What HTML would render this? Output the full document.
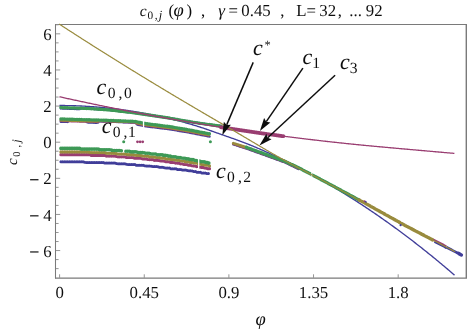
<!DOCTYPE html>
<html><head><meta charset="utf-8"><style>
html,body{margin:0;padding:0;background:#fff;}
svg{display:block;font-family:"Liberation Serif",serif;fill:#111;}
text{text-rendering:geometricPrecision;}
</style></head><body>
<svg width="467" height="331" viewBox="0 0 467 331">
<rect width="467" height="331" fill="#fff"/>
<defs><filter id="g" x="0" y="0" width="467" height="331" filterUnits="userSpaceOnUse"><feGaussianBlur stdDeviation="0.35"/></filter></defs><g filter="url(#g)">
<path d="M55.5,278.6 V24.5 H466.9" fill="none" stroke="#7a7a7a" stroke-width="1.05"/>
<path d="M55,278.1 H466.3 V24" fill="none" stroke="#7a7a7a" stroke-width="1.4"/>
<line x1="56" x2="58.6" y1="268.62" y2="268.62" stroke="#959595" stroke-width="1"/>
<line x1="56" x2="58.6" y1="259.59" y2="259.59" stroke="#959595" stroke-width="1"/>
<line x1="56" x2="60.2" y1="250.56" y2="250.56" stroke="#959595" stroke-width="1"/>
<line x1="56" x2="58.6" y1="241.53" y2="241.53" stroke="#959595" stroke-width="1"/>
<line x1="56" x2="58.6" y1="232.50" y2="232.50" stroke="#959595" stroke-width="1"/>
<line x1="56" x2="58.6" y1="223.47" y2="223.47" stroke="#959595" stroke-width="1"/>
<line x1="56" x2="60.2" y1="214.44" y2="214.44" stroke="#959595" stroke-width="1"/>
<line x1="56" x2="58.6" y1="205.41" y2="205.41" stroke="#959595" stroke-width="1"/>
<line x1="56" x2="58.6" y1="196.38" y2="196.38" stroke="#959595" stroke-width="1"/>
<line x1="56" x2="58.6" y1="187.35" y2="187.35" stroke="#959595" stroke-width="1"/>
<line x1="56" x2="60.2" y1="178.32" y2="178.32" stroke="#959595" stroke-width="1"/>
<line x1="56" x2="58.6" y1="169.29" y2="169.29" stroke="#959595" stroke-width="1"/>
<line x1="56" x2="58.6" y1="160.26" y2="160.26" stroke="#959595" stroke-width="1"/>
<line x1="56" x2="58.6" y1="151.23" y2="151.23" stroke="#959595" stroke-width="1"/>
<line x1="56" x2="60.2" y1="142.20" y2="142.20" stroke="#959595" stroke-width="1"/>
<line x1="56" x2="58.6" y1="133.17" y2="133.17" stroke="#959595" stroke-width="1"/>
<line x1="56" x2="58.6" y1="124.14" y2="124.14" stroke="#959595" stroke-width="1"/>
<line x1="56" x2="58.6" y1="115.11" y2="115.11" stroke="#959595" stroke-width="1"/>
<line x1="56" x2="60.2" y1="106.08" y2="106.08" stroke="#959595" stroke-width="1"/>
<line x1="56" x2="58.6" y1="97.05" y2="97.05" stroke="#959595" stroke-width="1"/>
<line x1="56" x2="58.6" y1="88.02" y2="88.02" stroke="#959595" stroke-width="1"/>
<line x1="56" x2="58.6" y1="78.99" y2="78.99" stroke="#959595" stroke-width="1"/>
<line x1="56" x2="60.2" y1="69.96" y2="69.96" stroke="#959595" stroke-width="1"/>
<line x1="56" x2="58.6" y1="60.93" y2="60.93" stroke="#959595" stroke-width="1"/>
<line x1="56" x2="58.6" y1="51.90" y2="51.90" stroke="#959595" stroke-width="1"/>
<line x1="56" x2="58.6" y1="42.87" y2="42.87" stroke="#959595" stroke-width="1"/>
<line x1="56" x2="60.2" y1="33.84" y2="33.84" stroke="#959595" stroke-width="1"/>
<line x1="56" x2="58.6" y1="24.81" y2="24.81" stroke="#959595" stroke-width="1"/>
<line x1="59.60" x2="59.60" y1="278" y2="274.3" stroke="#959595" stroke-width="1"/>
<line x1="144.25" x2="144.25" y1="278" y2="274.3" stroke="#959595" stroke-width="1"/>
<line x1="228.89" x2="228.89" y1="278" y2="274.3" stroke="#959595" stroke-width="1"/>
<line x1="313.54" x2="313.54" y1="278" y2="274.3" stroke="#959595" stroke-width="1"/>
<line x1="398.18" x2="398.18" y1="278" y2="274.3" stroke="#959595" stroke-width="1"/>
<polyline points="59.50,105.51 60.50,105.52 61.50,105.52 62.50,105.52 63.50,105.53 64.50,105.54 65.50,105.55 66.50,105.57 67.50,105.58 68.50,105.60 69.50,105.62 70.50,105.64 71.50,105.67 72.50,105.70 73.50,105.72 74.50,105.76 75.50,105.79 76.50,105.83 77.50,105.86 78.50,105.90 79.50,105.94 80.50,105.99 81.50,106.04 82.50,106.08 83.50,106.14 84.50,106.19 85.50,106.24 86.50,106.30 87.50,106.36 88.50,106.42 89.50,106.49 90.50,106.55 91.50,106.62 92.50,106.69 93.50,106.76 94.50,106.84 95.50,106.91 96.50,106.99 97.50,107.08 98.50,107.16 99.50,107.24 100.50,107.33 101.50,107.42 102.50,107.51 103.50,107.61 104.50,107.70 105.50,107.80 106.50,107.90 107.50,108.01 108.50,108.11 109.50,108.22 110.50,108.33 111.50,108.44 112.50,108.55 113.50,108.67 114.50,108.79 115.50,108.91 116.50,109.03 117.50,109.16 118.50,109.28 119.50,109.41 120.50,109.54 121.50,109.68 122.50,109.81 123.50,109.95 124.50,110.09 125.50,110.23 126.50,110.38 127.50,110.52 128.50,110.67 129.50,110.82 130.50,110.98 131.50,111.13 132.50,111.29 133.50,111.45 134.50,111.61 135.50,111.77 136.50,111.94 137.50,112.11 138.50,112.28 139.50,112.45 140.50,112.62 141.50,112.80 142.50,112.98 143.50,113.16 144.50,113.34 145.50,113.53 146.50,113.72 147.50,113.91 148.50,114.10 149.50,114.29 150.50,114.49 151.50,114.69 152.50,114.89 153.50,115.09 154.50,115.30 155.50,115.51 156.50,115.71 157.50,115.93 158.50,116.14 159.50,116.36 160.50,116.57 161.50,116.79 162.50,117.02 163.50,117.24 164.50,117.47 165.50,117.70 166.50,117.93 167.50,118.16 168.50,118.40 169.50,118.64 170.50,118.88 171.50,119.12 172.50,119.36 173.50,119.61 174.50,119.86 175.50,120.11 176.50,120.36 177.50,120.62 178.50,120.88 179.50,121.14 180.50,121.40 181.50,121.66 182.50,121.93 183.50,122.20 184.50,122.47 185.50,122.75 186.50,123.03 187.50,123.31 188.50,123.59 189.50,123.88 190.50,124.17 191.50,124.46 192.50,124.75 193.50,125.05 194.50,125.35 195.50,125.66 196.50,125.97 197.50,126.28 198.50,126.60 199.50,126.92 200.50,127.24 201.50,127.57 202.50,127.90 203.50,128.23 204.50,128.57 205.50,128.91 206.50,129.25 207.50,129.59 208.50,129.94 209.50,130.29 210.50,130.64 211.50,130.99 212.50,131.35 213.50,131.70 214.50,132.06 215.50,132.41 216.50,132.77 217.50,133.12 218.50,133.47 219.50,133.83 220.50,134.18 221.50,134.53 222.50,134.88 223.50,135.23 224.50,135.58 225.50,135.93 226.50,136.28 227.50,136.63 228.50,136.98 229.50,137.32 230.50,137.67 231.50,138.02 232.50,138.37 233.50,138.73 234.50,139.08 235.50,139.44 236.50,139.79 237.50,140.16 238.50,140.52 239.50,140.89 240.50,141.26 241.50,141.63 242.50,142.01 243.50,142.39 244.50,142.77 245.50,143.16 246.50,143.55 247.50,143.95 248.50,144.35 249.50,144.75 250.50,145.15 251.50,145.56 252.50,145.97 253.50,146.39 254.50,146.80 255.50,147.22 256.50,147.65 257.50,148.07 258.50,148.50 259.50,148.93 260.50,149.37 261.50,149.80 262.50,150.24 263.50,150.68 264.50,151.13 265.50,151.57 266.50,152.02 267.50,152.47 268.50,152.92 269.50,153.38 270.50,153.83 271.50,154.29 272.50,154.75 273.50,155.22 274.50,155.68 275.50,156.15 276.50,156.62 277.50,157.09 278.50,157.57 279.50,158.04 280.50,158.52 281.50,159.00 282.50,159.49 283.50,159.97 284.50,160.46 285.50,160.95 286.50,161.44 287.50,161.94 288.50,162.43 289.50,162.93 290.50,163.43 291.50,163.93 292.50,164.44 293.50,164.95 294.50,165.46 295.50,165.97 296.50,166.48 297.50,167.00 298.50,167.51 299.50,168.03 300.50,168.56 301.50,169.08 302.50,169.61 303.50,170.14 304.50,170.67 305.50,171.20 306.50,171.74 307.50,172.27 308.50,172.81 309.50,173.36 310.50,173.90 311.50,174.45 312.50,174.99 313.50,175.54 314.50,176.10 315.50,176.65 316.50,177.21 317.50,177.77 318.50,178.33 319.50,178.89 320.50,179.46 321.50,180.03 322.50,180.60 323.50,181.17 324.50,181.74 325.50,182.32 326.50,182.90 327.50,183.48 328.50,184.06 329.50,184.65 330.50,185.24 331.50,185.83 332.50,186.42 333.50,187.01 334.50,187.61 335.50,188.21 336.50,188.81 337.50,189.41 338.50,190.01 339.50,190.62 340.50,191.23 341.50,191.84 342.50,192.46 343.50,193.07 344.50,193.69 345.50,194.31 346.50,194.93 347.50,195.56 348.50,196.18 349.50,196.81 350.50,197.44 351.50,198.07 352.50,198.71 353.50,199.35 354.50,199.99 355.50,200.63 356.50,201.27 357.50,201.92 358.50,202.57 359.50,203.22 360.50,203.87 361.50,204.53 362.50,205.18 363.50,205.84 364.50,206.50 365.50,207.17 366.50,207.83 367.50,208.50 368.50,209.17 369.50,209.84 370.50,210.52 371.50,211.19 372.50,211.87 373.50,212.55 374.50,213.24 375.50,213.92 376.50,214.61 377.50,215.30 378.50,215.99 379.50,216.68 380.50,217.38 381.50,218.08 382.50,218.78 383.50,219.48 384.50,220.19 385.50,220.89 386.50,221.60 387.50,222.31 388.50,223.03 389.50,223.74 390.50,224.46 391.50,225.18 392.50,225.90 393.50,226.63 394.50,227.35 395.50,228.08 396.50,228.81 397.50,229.55 398.50,230.28 399.50,231.02 400.50,231.76 401.50,232.50 402.50,233.25 403.50,233.99 404.50,234.74 405.50,235.49 406.50,236.25 407.50,237.00 408.50,237.76 409.50,238.52 410.50,239.28 411.50,240.05 412.50,240.82 413.50,241.59 414.50,242.36 415.50,243.13 416.50,243.91 417.50,244.69 418.50,245.47 419.50,246.25 420.50,247.04 421.50,247.82 422.50,248.62 423.50,249.41 424.50,250.20 425.50,251.00 426.50,251.80 427.50,252.60 428.50,253.41 429.50,254.21 430.50,255.02 431.50,255.83 432.50,256.64 433.50,257.46 434.50,258.28 435.50,259.10 436.50,259.92 437.50,260.74 438.50,261.57 439.50,262.40 440.50,263.23 441.50,264.07 442.50,264.90 443.50,265.74 444.50,266.58 445.50,267.43 446.50,268.27 447.50,269.12 448.50,269.97 449.50,270.82 450.50,271.68 451.50,272.53 452.50,273.39 453.50,274.25 454.50,275.12" fill="none" stroke="#3F3D99" stroke-width="1.35" />
<polyline points="60.90,161.70 61.90,161.70 62.90,161.70 63.90,161.70 64.90,161.70 65.90,161.70 66.90,161.70 67.90,161.70 68.90,161.70 69.90,161.70 70.90,161.70 71.90,161.70 72.90,161.70 73.90,161.70 74.90,161.70 75.90,161.70 76.90,161.70 77.90,161.70 78.90,161.70 79.90,161.70 80.90,161.70 81.90,161.70 82.90,161.70 83.90,161.70 84.90,162.40 85.90,162.40 86.90,162.40 87.90,162.40 88.90,162.40 89.90,162.40 90.90,162.40 91.90,162.40 92.90,162.40 93.90,162.40 94.90,162.40 95.90,162.40 96.90,162.40 97.90,162.40 98.90,162.40 99.90,162.40 100.90,162.40 101.90,162.40 102.90,162.40 103.90,163.10 104.90,163.10 105.90,163.10 106.90,163.10 107.90,163.10 108.90,163.10 109.90,163.10 110.90,163.10 111.90,163.10 112.90,163.10 113.90,163.10 114.90,163.10 115.90,163.10 116.90,163.80 117.90,163.80 118.90,163.80 119.90,163.80 120.90,163.80 121.90,163.80 122.90,163.80 123.90,163.80 124.90,163.80 125.90,163.80 126.90,164.50 127.90,164.50 128.90,164.50 129.90,164.50 130.90,164.50 131.90,164.50 132.90,164.50 133.90,164.50 134.90,164.50 135.90,165.20 136.90,165.20 137.90,165.20 138.90,165.20 139.90,165.20 140.90,165.20 141.90,165.20 142.90,165.20 143.90,165.20 144.90,165.90 145.90,165.90 146.90,165.90 147.90,165.90 148.90,165.90 149.90,165.90 150.90,165.90 151.90,166.60 152.90,166.60 153.90,166.60 154.90,166.60 155.90,166.60 156.90,166.60 157.90,166.60 158.90,167.30 159.90,167.30 160.90,167.30 161.90,167.30 162.90,167.30 163.90,167.30 164.90,168.00 165.90,168.00 166.90,168.00 167.90,168.00 168.90,168.00 169.90,168.00 170.90,168.70 171.90,168.70 172.90,168.70 173.90,168.70 174.90,168.70 175.90,168.70 176.90,169.40 177.90,169.40 178.90,169.40 179.90,169.40 180.90,169.40 181.90,170.10 182.90,170.10 183.90,170.10 184.90,170.10 185.90,170.10 186.90,170.10 187.90,170.80 188.90,170.80 189.90,170.80 190.90,170.80 191.90,170.80 192.90,171.50 193.90,171.50 194.90,171.50 195.90,171.50 196.90,172.20 197.90,172.20 198.90,172.20 199.90,172.20 200.90,172.20 201.90,172.90 202.90,172.90 203.90,172.90 204.90,172.90 205.90,172.90 206.90,173.60 207.90,173.60 208.90,173.60 209.90,173.60" fill="none" stroke="#3F3D99" stroke-width="3.0" stroke-linecap="round" stroke-linejoin="round" stroke-dasharray="0 1.7"/>
<polyline points="60.90,154.70 61.90,154.70 62.90,154.70 63.90,154.70 64.90,154.70 65.90,154.70 66.90,154.70 67.90,154.70 68.90,154.70 69.90,154.70 70.90,154.70 71.90,154.70 72.90,154.70 73.90,154.70 74.90,154.70 75.90,154.70 76.90,154.70 77.90,154.70 78.90,154.70 79.90,154.70 80.90,154.70 81.90,154.70 82.90,154.70 83.90,154.70 84.90,154.70 85.90,154.70 86.90,154.70 87.90,154.70 88.90,154.70 89.90,154.70 90.90,155.40 91.90,155.40 92.90,155.40 93.90,155.40 94.90,155.40 95.90,155.40 96.90,155.40 97.90,155.40 98.90,155.40 99.90,155.40 100.90,155.40 101.90,155.40 102.90,155.40 103.90,155.40 104.90,155.40 105.90,156.10 106.90,156.10 107.90,156.10 108.90,156.10 109.90,156.10 110.90,156.10 111.90,156.10 112.90,156.10 113.90,156.10 114.90,156.10 115.90,156.10 116.90,156.80 117.90,156.80 118.90,156.80 119.90,156.80 120.90,156.80 121.90,156.80 122.90,156.80 123.90,156.80 124.90,156.80 125.90,157.50 126.90,157.50 127.90,157.50 128.90,157.50 129.90,157.50 130.90,157.50 131.90,157.50 132.90,157.50 133.90,158.20 134.90,158.20 135.90,158.20 136.90,158.20 137.90,158.20 138.90,158.20 139.90,158.20 140.90,158.20 141.90,158.90 142.90,158.90 143.90,158.90 144.90,158.90 145.90,158.90 146.90,158.90 147.90,159.60 148.90,159.60 149.90,159.60 150.90,159.60 151.90,159.60 152.90,159.60 153.90,160.30 154.90,160.30 155.90,160.30 156.90,160.30 157.90,160.30 158.90,160.30 159.90,161.00 160.90,161.00 161.90,161.00 162.90,161.00 163.90,161.00 164.90,161.70 165.90,161.70 166.90,161.70 167.90,161.70 168.90,161.70 169.90,162.40 170.90,162.40 171.90,162.40 172.90,162.40 173.90,162.40 174.90,163.10 175.90,163.10 176.90,163.10 177.90,163.10 178.90,163.10 179.90,163.80 180.90,163.80 181.90,163.80 182.90,163.80 183.90,164.50 184.90,164.50 185.90,164.50 186.90,164.50 187.90,165.20 188.90,165.20 189.90,165.20 190.90,165.20 191.90,165.90 192.90,165.90 193.90,165.90 194.90,165.90 195.90,166.60 196.90,166.60 197.90,166.60 198.90,166.60 199.90,167.30 200.90,167.30 201.90,167.30 202.90,167.30 203.90,168.00 204.90,168.00 205.90,168.00 206.90,168.70 207.90,168.70 208.90,168.70 209.90,168.70" fill="none" stroke="#993D71" stroke-width="3.2" stroke-linecap="round" stroke-linejoin="round" stroke-dasharray="0 1.7"/>
<polyline points="60.90,151.90 61.90,151.90 62.90,151.90 63.90,151.90 64.90,151.90 65.90,151.90 66.90,151.90 67.90,151.90 68.90,151.90 69.90,151.90 70.90,151.90 71.90,151.90 72.90,151.90 73.90,151.90 74.90,151.90 75.90,151.90 76.90,151.90 77.90,151.90 78.90,151.90 79.90,151.90 80.90,151.90 81.90,151.90 82.90,151.90 83.90,151.90 84.90,151.90 85.90,151.90 86.90,151.90 87.90,151.90 88.90,151.90 89.90,152.60 90.90,152.60 91.90,152.60 92.90,152.60 93.90,152.60 94.90,152.60 95.90,152.60 96.90,152.60 97.90,152.60 98.90,152.60 99.90,152.60 100.90,152.60 101.90,152.60 102.90,152.60 103.90,152.60 104.90,152.60 105.90,153.30 106.90,153.30 107.90,153.30 108.90,153.30 109.90,153.30 110.90,153.30 111.90,153.30 112.90,153.30 113.90,153.30 114.90,153.30 115.90,153.30 116.90,154.00 117.90,154.00 118.90,154.00 119.90,154.00 120.90,154.00 121.90,154.00 122.90,154.00 123.90,154.00 124.90,154.00 125.90,154.00 126.90,154.70 127.90,154.70 128.90,154.70 129.90,154.70 130.90,154.70 131.90,154.70 132.90,154.70 133.90,154.70 134.90,155.40 135.90,155.40 136.90,155.40 137.90,155.40 138.90,155.40 139.90,155.40 140.90,155.40 141.90,156.10 142.90,156.10 143.90,156.10 144.90,156.10 145.90,156.10 146.90,156.10 147.90,156.10 148.90,156.80 149.90,156.80 150.90,156.80 151.90,156.80 152.90,156.80 153.90,156.80 154.90,157.50 155.90,157.50 156.90,157.50 157.90,157.50 158.90,157.50 159.90,157.50 160.90,158.20 161.90,158.20 162.90,158.20 163.90,158.20 164.90,158.20 165.90,158.90 166.90,158.90 167.90,158.90 168.90,158.90 169.90,158.90 170.90,159.60 171.90,159.60 172.90,159.60 173.90,159.60 174.90,159.60 175.90,160.30 176.90,160.30 177.90,160.30 178.90,160.30 179.90,160.30 180.90,161.00 181.90,161.00 182.90,161.00 183.90,161.00 184.90,161.70 185.90,161.70 186.90,161.70 187.90,161.70 188.90,161.70 189.90,162.40 190.90,162.40 191.90,162.40 192.90,162.40 193.90,163.10 194.90,163.10 195.90,163.10 196.90,163.10 197.90,163.80 198.90,163.80 199.90,163.80 200.90,164.50 201.90,164.50 202.90,164.50 203.90,164.50 204.90,165.20 205.90,165.20 206.90,165.20 207.90,165.20 208.90,165.90 209.90,165.90" fill="none" stroke="#998B3D" stroke-width="3.2" stroke-linecap="round" stroke-linejoin="round" stroke-dasharray="0 1.7"/>
<polyline points="60.90,148.40 61.90,148.40 62.90,148.40 63.90,148.40 64.90,148.40 65.90,148.40 66.90,148.40 67.90,148.40 68.90,148.40 69.90,148.40 70.90,148.40 71.90,148.40 72.90,148.40 73.90,148.40 74.90,148.40 75.90,148.40 76.90,148.40 77.90,148.40 78.90,148.40 79.90,148.40 80.90,149.10 81.90,149.10 82.90,149.10 83.90,149.10 84.90,149.10 85.90,149.10 86.90,149.10 87.90,149.10 88.90,149.10 89.90,149.10 90.90,149.10 91.90,149.10 92.90,149.10 93.90,149.10 94.90,149.10 95.90,149.10 96.90,149.10 97.90,149.10 98.90,149.10 99.90,149.80 100.90,149.80 101.90,149.80 102.90,149.80 103.90,149.80 104.90,149.80 105.90,149.80 106.90,149.80 107.90,149.80 108.90,149.80 109.90,149.80 110.90,149.80 111.90,150.50 112.90,150.50 113.90,150.50 114.90,150.50 115.90,150.50 116.90,150.50 117.90,150.50 118.90,150.50 119.90,150.50 120.90,150.50 121.90,151.20" fill="none" stroke="#3D9956" stroke-width="3.6" stroke-linecap="round" stroke-linejoin="round" stroke-dasharray="0 1.7"/>
<polyline points="125.90,151.20 126.90,151.20 127.90,151.20 128.90,151.20 129.90,151.20 130.90,151.90 131.90,151.90 132.90,151.90 133.90,151.90 134.90,151.90 135.90,151.90 136.90,151.90 137.90,152.60 138.90,152.60 139.90,152.60 140.90,152.60 141.90,152.60 142.90,152.60 143.90,152.60 144.90,153.30 145.90,153.30 146.90,153.30 147.90,153.30 148.90,153.30 149.90,153.30 150.90,154.00 151.90,154.00 152.90,154.00 153.90,154.00 154.90,154.00 155.90,154.00 156.90,154.70 157.90,154.70 158.90,154.70 159.90,154.70 160.90,154.70 161.90,154.70 162.90,155.40 163.90,155.40 164.90,155.40 165.90,155.40 166.90,155.40 167.90,156.10 168.90,156.10 169.90,156.10 170.90,156.10 171.90,156.80 172.90,156.80 173.90,156.80 174.90,156.80 175.90,156.80 176.90,157.50 177.90,157.50 178.90,157.50 179.90,157.50 180.90,157.50 181.90,158.20 182.90,158.20 183.90,158.20 184.90,158.20 185.90,158.90 186.90,158.90 187.90,158.90 188.90,158.90 189.90,159.60 190.90,159.60 191.90,159.60 192.90,159.60 193.90,160.30 194.90,160.30 195.90,160.30 196.90,161.00 197.90,161.00 198.90,161.00 199.90,161.00 200.90,161.70 201.90,161.70 202.90,161.70 203.90,161.70 204.90,162.40 205.90,162.40 206.90,162.40 207.90,163.10 208.90,163.10 209.90,163.10" fill="none" stroke="#3D9956" stroke-width="3.6" stroke-linecap="round" stroke-linejoin="round" stroke-dasharray="0 1.7"/>
<polyline points="60.90,121.64 61.90,121.67 62.90,121.70 63.90,121.73 64.90,121.76 65.90,121.79 66.90,121.82 67.90,121.85 68.90,120.38 69.90,120.41 70.90,120.44 71.90,120.47 72.90,120.50 73.90,120.53 74.90,120.56 75.90,120.59 76.90,120.62 77.90,120.65 78.90,120.68 79.90,120.71 80.90,120.74 81.90,120.77 82.90,120.80 83.90,120.82 84.90,120.85 85.90,120.88 86.90,122.41 87.90,122.44 88.90,122.47 89.90,122.50 90.90,122.53 91.90,122.56 92.90,122.59 93.90,122.62 94.90,122.65 95.90,122.68 96.90,122.71 97.90,122.74 98.90,121.27 99.90,121.30 100.90,121.33 101.90,121.36 102.90,121.39 103.90,121.42 104.90,121.45 105.90,121.48 106.90,121.51 107.90,121.54 108.90,121.57 109.90,121.60 110.90,121.64 111.90,121.68 112.90,121.72 113.90,121.76 114.90,121.80 115.90,121.84 116.90,121.88 117.90,121.92 118.90,121.96 119.90,122.00 120.90,122.04 121.90,122.08 122.90,122.12 123.90,122.16 124.90,122.20 125.90,122.24 126.90,122.28 127.90,122.32 128.90,122.36 129.90,122.40 130.90,122.44 131.90,122.48 132.90,122.52 133.90,122.56 134.90,122.60 135.90,122.78 136.90,124.48 137.90,124.68 138.90,124.88 139.90,125.08 140.90,125.28 141.90,125.48 142.90,125.68 143.90,125.88 144.90,126.08 145.90,126.28 146.90,126.41 147.90,126.54 148.90,126.66 149.90,126.79 150.90,126.91 151.90,127.04 152.90,127.16 153.90,127.29 154.90,127.41 155.90,127.54 156.90,127.66 157.90,127.79 158.90,127.91 159.90,128.04 160.90,128.16 161.90,128.29 162.90,128.41 163.90,128.54 164.90,128.66 165.90,128.79 166.90,128.91 167.90,129.04 168.90,129.16 169.90,129.29 170.90,129.45 171.90,129.62 172.90,129.79 173.90,129.96 174.90,130.13 175.90,130.30 176.90,130.47 177.90,130.64 178.90,130.81 179.90,130.98 180.90,131.15 181.90,131.32 182.90,131.49 183.90,131.66 184.90,131.83 185.90,132.00 186.90,132.17 187.90,132.34 188.90,132.51 189.90,132.68 190.90,132.88 191.90,133.07 192.90,133.27 193.90,133.47 194.90,133.66 195.90,133.86 196.90,134.05 197.90,134.25 198.90,134.45 199.90,134.64 200.90,134.84 201.90,135.04 202.90,135.23 203.90,135.43 204.90,135.62 205.90,135.82 206.90,136.02 207.90,136.21 208.90,136.41 209.90,136.61" fill="none" stroke="#3F3D99" stroke-width="2.6" stroke-linecap="round" stroke-linejoin="round" stroke-dasharray="0 1.7"/>
<polyline points="60.90,120.84 61.90,120.87 62.90,120.90 63.90,120.93 64.90,120.96 65.90,120.99 66.90,121.02 67.90,121.05 68.90,121.08 69.90,121.11 70.90,121.14 71.90,121.17 72.90,121.20 73.90,121.23 74.90,121.26 75.90,121.29 76.90,121.32 77.90,121.35 78.90,121.38 79.90,121.41 80.90,121.44 81.90,121.47 82.90,121.50 83.90,121.52 84.90,121.55 85.90,121.58 86.90,121.61 87.90,121.64 88.90,121.67 89.90,121.70 90.90,121.73 91.90,121.76 92.90,121.79 93.90,121.82 94.90,121.85 95.90,121.88 96.90,121.91 97.90,121.94 98.90,121.02 99.90,121.05 100.90,121.08 101.90,121.11 102.90,121.14 103.90,121.17 104.90,121.20 105.90,121.23 106.90,121.26 107.90,121.29 108.90,121.32 109.90,121.35 110.90,121.39 111.90,121.43 112.90,121.47 113.90,121.51 114.90,121.55 115.90,121.59 116.90,121.63 117.90,121.67 118.90,121.71 119.90,121.75 120.90,121.79 121.90,121.83 122.90,121.87 123.90,121.91 124.90,121.95 125.90,121.99 126.90,122.03 127.90,122.07 128.90,122.11 129.90,122.15 130.90,122.19 131.90,122.23 132.90,122.27 133.90,122.31 134.90,122.35 135.90,122.53 136.90,123.68 137.90,123.88 138.90,124.08 139.90,124.28 140.90,124.48 141.90,124.68 142.90,124.88 143.90,125.08 144.90,125.28 145.90,125.48 146.90,125.61 147.90,125.74 148.90,125.86 149.90,125.99 150.90,126.11 151.90,126.24 152.90,126.36 153.90,126.49 154.90,126.61 155.90,126.74 156.90,126.86 157.90,126.99 158.90,127.11 159.90,127.24 160.90,127.36 161.90,127.49 162.90,127.61 163.90,127.74 164.90,127.86 165.90,127.99 166.90,128.11 167.90,128.24 168.90,128.36 169.90,128.49 170.90,128.65 171.90,128.82 172.90,128.99 173.90,129.16 174.90,129.33 175.90,129.50 176.90,129.67 177.90,129.84 178.90,130.01 179.90,130.18 180.90,130.35 181.90,130.52 182.90,130.69 183.90,130.86 184.90,131.03 185.90,131.20 186.90,131.37 187.90,131.54 188.90,131.71 189.90,131.88 190.90,132.08 191.90,132.27 192.90,132.47 193.90,132.67 194.90,132.86 195.90,133.06 196.90,133.25 197.90,133.45 198.90,133.65 199.90,133.84 200.90,134.04 201.90,134.24 202.90,134.43 203.90,134.63 204.90,134.82 205.90,135.02 206.90,135.22 207.90,135.41 208.90,135.61 209.90,135.81" fill="none" stroke="#993D71" stroke-width="2.6" stroke-linecap="round" stroke-linejoin="round" stroke-dasharray="0 1.7"/>
<polyline points="60.90,120.34 61.90,120.37 62.90,120.40 63.90,120.43 64.90,120.46 65.90,120.49 66.90,120.52 67.90,120.55 68.90,120.58 69.90,120.61 70.90,120.64 71.90,120.67 72.90,120.70 73.90,120.73 74.90,120.76 75.90,120.79 76.90,120.82 77.90,120.85 78.90,120.88 79.90,120.91 80.90,120.94 81.90,120.97 82.90,121.00 83.90,121.02 84.90,121.05 85.90,121.08 86.90,121.11 87.90,121.14 88.90,121.17 89.90,121.20 90.90,121.23 91.90,121.26 92.90,121.29 93.90,121.32 94.90,121.35 95.90,121.38 96.90,121.41 97.90,121.44 98.90,120.77 99.90,120.80 100.90,120.83 101.90,120.86 102.90,120.89 103.90,120.92 104.90,120.95 105.90,120.98 106.90,121.01 107.90,121.04 108.90,121.07 109.90,121.10 110.90,121.14 111.90,121.18 112.90,121.22 113.90,121.26 114.90,121.30 115.90,121.34 116.90,121.38 117.90,121.42 118.90,121.46 119.90,121.50 120.90,121.54 121.90,121.58 122.90,121.62 123.90,121.66 124.90,121.70 125.90,121.74 126.90,121.78 127.90,121.82 128.90,121.86 129.90,121.90 130.90,121.94 131.90,121.98 132.90,122.02 133.90,122.06 134.90,122.10 135.90,122.28 136.90,123.18 137.90,123.38 138.90,123.58 139.90,123.78 140.90,123.98 141.90,124.18 142.90,124.38 143.90,124.58 144.90,124.78 145.90,124.98 146.90,125.11 147.90,125.24 148.90,125.36 149.90,125.49 150.90,125.61 151.90,125.74 152.90,125.86 153.90,125.99 154.90,126.11 155.90,126.24 156.90,126.36 157.90,126.49 158.90,126.61 159.90,126.74 160.90,126.86 161.90,126.99 162.90,127.11 163.90,127.24 164.90,127.36 165.90,127.49 166.90,127.61 167.90,127.74 168.90,127.86 169.90,127.99 170.90,128.15 171.90,128.32 172.90,128.49 173.90,128.66 174.90,128.83 175.90,129.00 176.90,129.17 177.90,129.34 178.90,129.51 179.90,129.68 180.90,129.85 181.90,130.02 182.90,130.19 183.90,130.36 184.90,130.53 185.90,130.70 186.90,130.87 187.90,131.04 188.90,131.21 189.90,131.38 190.90,131.58 191.90,131.77 192.90,131.97 193.90,132.17 194.90,132.36 195.90,132.56 196.90,132.75 197.90,132.95 198.90,133.15 199.90,133.34 200.90,133.54 201.90,133.74 202.90,133.93 203.90,134.13 204.90,134.32 205.90,134.52 206.90,134.72 207.90,134.91 208.90,135.11 209.90,135.31" fill="none" stroke="#998B3D" stroke-width="2.6" stroke-linecap="round" stroke-linejoin="round" stroke-dasharray="0 1.7"/>
<polyline points="60.90,118.94 61.90,118.97 62.90,119.00 63.90,119.03 64.90,119.06 65.90,119.09 66.90,119.12 67.90,119.15 68.90,119.18 69.90,119.21 70.90,119.24 71.90,119.27 72.90,119.30 73.90,119.33 74.90,119.36 75.90,119.39 76.90,119.42 77.90,119.45 78.90,119.48 79.90,119.51 80.90,119.54 81.90,119.57 82.90,119.60 83.90,119.62 84.90,119.65 85.90,119.68 86.90,119.71 87.90,119.74 88.90,119.77 89.90,119.80 90.90,119.83 91.90,119.86 92.90,119.89 93.90,119.92 94.90,119.95 95.90,119.98 96.90,120.01 97.90,120.04 98.90,120.07 99.90,120.10 100.90,120.13 101.90,120.16 102.90,120.19 103.90,120.22 104.90,120.25 105.90,120.28 106.90,120.31 107.90,120.34 108.90,120.37 109.90,120.40 110.90,120.44 111.90,120.48 112.90,120.52 113.90,120.56 114.90,120.60 115.90,120.64 116.90,120.68 117.90,120.72 118.90,120.76 119.90,120.80 120.90,120.84 121.90,120.88 122.90,120.92 123.90,120.96 124.90,121.00 125.90,121.04 126.90,121.08 127.90,121.12 128.90,121.16 129.90,121.20 130.90,121.24 131.90,121.28 132.90,121.32 133.90,121.36 134.90,121.40 135.90,121.58 136.90,121.78 137.90,121.98 138.90,122.18 139.90,122.38 140.90,122.58 141.90,122.78 142.90,122.98 143.90,123.18 144.90,123.38 145.90,123.58 146.90,123.71 147.90,123.84 148.90,123.96 149.90,124.09 150.90,124.21 151.90,124.34 152.90,124.46 153.90,124.59 154.90,124.71 155.90,124.84 156.90,124.96 157.90,125.09 158.90,125.21 159.90,125.34 160.90,125.46 161.90,125.59 162.90,125.71 163.90,125.84 164.90,125.96 165.90,126.09 166.90,126.21 167.90,126.34 168.90,126.46 169.90,126.59 170.90,126.75 171.90,126.92 172.90,127.09 173.90,127.26 174.90,127.43 175.90,127.60 176.90,127.77 177.90,127.94 178.90,128.11 179.90,128.28 180.90,128.45 181.90,128.62 182.90,128.79 183.90,128.96 184.90,129.13 185.90,129.30 186.90,129.47 187.90,129.64 188.90,129.81 189.90,129.98 190.90,130.18 191.90,130.37 192.90,130.57 193.90,130.77 194.90,130.96 195.90,131.16 196.90,131.35 197.90,131.55 198.90,131.75 199.90,131.94 200.90,132.14 201.90,132.34 202.90,132.53 203.90,132.73 204.90,132.92 205.90,133.12 206.90,133.32 207.90,133.51 208.90,133.71 209.90,133.91" fill="none" stroke="#3D9956" stroke-width="3.4" stroke-linecap="round" stroke-linejoin="round" stroke-dasharray="0 1.7"/>
<polyline points="60.90,108.35 61.90,108.39 62.90,108.42 63.90,108.46 64.90,108.49 65.90,108.53 66.90,108.57 67.90,108.60 68.90,108.64 69.90,108.68 70.90,108.71 71.90,108.75 72.90,108.78 73.90,108.82 74.90,108.86 75.90,108.89 76.90,108.93 77.90,108.96 78.90,109.00 79.90,109.04 80.90,108.27 81.90,108.31 82.90,108.34 83.90,108.38 84.90,108.42 85.90,108.45 86.90,108.49 87.90,108.52 88.90,108.56 89.90,108.60 90.90,108.66 91.90,108.73 92.90,108.80 93.90,108.87 94.90,108.94 95.90,109.01 96.90,109.08 97.90,109.15 98.90,109.22 99.90,109.29 100.90,109.36 101.90,109.43 102.90,109.50 103.90,109.57 104.90,109.64 105.90,109.71 106.90,109.78 107.90,109.85 108.90,109.92 109.90,109.99 110.90,110.10 111.90,110.22 112.90,110.33 113.90,110.45 114.90,110.56 115.90,110.68 116.90,110.79 117.90,110.91 118.90,111.02 119.90,111.14 120.90,111.25 121.90,111.37 122.90,111.48 123.90,111.60 124.90,111.71 125.90,111.83 126.90,111.94 127.90,112.06 128.90,112.17 129.90,112.29 130.90,112.43 131.90,112.57 132.90,112.72 133.90,112.86 134.90,113.00 135.90,113.15 136.90,113.29 137.90,113.43 138.90,113.58 139.90,113.72 140.90,113.86 141.90,114.01 142.90,114.15 143.90,114.29 144.90,114.44 145.90,114.58 146.90,114.72 147.90,114.87 148.90,115.01 149.90,115.15 150.90,115.30 151.90,115.44 152.90,115.58 153.90,115.73 154.90,115.87 155.90,116.01 156.90,116.16 157.90,116.30 158.90,116.44 159.90,116.59 160.90,116.74 161.90,116.90 162.90,117.06 163.90,117.22 164.90,117.38 165.90,117.54 166.90,117.70 167.90,117.86 168.90,118.02 169.90,118.18 170.90,118.36 171.90,118.54 172.90,118.72 173.90,118.90 174.90,119.08 175.90,119.26 176.90,119.44 177.90,119.62 178.90,119.80 179.90,119.98 180.90,120.16 181.90,120.34 182.90,120.52 183.90,120.70 184.90,120.88 185.90,121.04 186.90,121.20 187.90,121.36 188.90,121.52 189.90,121.68 190.90,121.84 191.90,122.00 192.90,122.16 193.90,122.32 194.90,122.48 195.90,122.64 196.90,122.80 197.90,122.96 198.90,123.12 199.90,123.28 200.90,123.42 201.90,123.56 202.90,123.70 203.90,123.83 204.90,123.97 205.90,124.10 206.90,124.24 207.90,124.38 208.90,124.51 209.90,124.65 210.90,124.79 211.90,124.92 212.90,125.06 213.90,125.20 214.90,125.33 215.90,125.47 216.90,125.60 217.90,125.74 218.90,125.88 219.90,126.01 220.90,126.15 221.90,126.29" fill="none" stroke="#3F3D99" stroke-width="2.6" stroke-linecap="round" stroke-linejoin="round" stroke-dasharray="0 1.7"/>
<polyline points="60.90,107.55 61.90,107.59 62.90,107.62 63.90,107.66 64.90,107.69 65.90,107.73 66.90,107.77 67.90,107.80 68.90,107.84 69.90,107.88 70.90,107.91 71.90,107.95 72.90,107.98 73.90,108.02 74.90,108.06 75.90,108.09 76.90,108.13 77.90,108.16 78.90,108.20 79.90,108.24 80.90,108.27 81.90,108.31 82.90,108.34 83.90,108.38 84.90,108.42 85.90,108.45 86.90,108.49 87.90,108.52 88.90,108.56 89.90,108.60 90.90,108.66 91.90,108.73 92.90,108.80 93.90,108.87 94.90,108.94 95.90,109.01 96.90,109.08 97.90,109.15 98.90,109.22 99.90,109.29 100.90,109.36 101.90,109.43 102.90,109.50 103.90,109.57 104.90,109.64 105.90,109.71 106.90,109.78 107.90,109.85 108.90,109.92 109.90,109.99 110.90,110.10 111.90,110.22 112.90,110.33 113.90,110.45 114.90,110.56 115.90,110.68 116.90,110.79 117.90,110.91 118.90,111.02 119.90,111.14 120.90,111.25 121.90,111.37 122.90,111.48 123.90,111.60 124.90,111.71 125.90,111.83 126.90,111.94 127.90,112.06 128.90,112.17 129.90,112.29 130.90,112.43 131.90,112.57 132.90,112.72 133.90,112.86 134.90,113.00 135.90,113.15 136.90,113.29 137.90,113.43 138.90,113.58 139.90,113.72 140.90,113.86 141.90,114.01 142.90,114.15 143.90,114.29 144.90,114.44 145.90,114.58 146.90,114.72 147.90,114.87 148.90,115.01 149.90,115.15 150.90,115.30 151.90,115.44 152.90,115.58 153.90,115.73 154.90,115.87 155.90,116.01 156.90,116.16 157.90,116.30 158.90,116.44 159.90,116.59 160.90,116.74 161.90,116.90 162.90,117.06 163.90,117.22 164.90,117.38 165.90,117.54 166.90,117.70 167.90,117.86 168.90,118.02 169.90,118.18 170.90,118.36 171.90,118.54 172.90,118.72 173.90,118.90 174.90,119.08 175.90,119.26 176.90,119.44 177.90,119.62 178.90,119.80 179.90,119.98 180.90,120.16 181.90,120.34 182.90,120.52 183.90,120.70 184.90,120.88 185.90,121.04 186.90,121.20 187.90,121.36 188.90,121.52 189.90,121.68 190.90,121.84 191.90,122.00 192.90,122.16 193.90,122.32 194.90,122.48 195.90,122.64 196.90,122.80 197.90,122.96 198.90,123.12 199.90,123.28 200.90,123.42 201.90,123.56 202.90,123.70 203.90,123.83 204.90,123.97 205.90,124.10 206.90,124.24 207.90,124.38 208.90,124.51 209.90,124.65 210.90,124.79 211.90,124.92 212.90,125.06 213.90,125.20 214.90,125.33 215.90,125.47 216.90,125.60 217.90,125.74 218.90,125.88 219.90,126.01 220.90,126.15 221.90,126.29" fill="none" stroke="#3D9956" stroke-width="3.4" stroke-linecap="round" stroke-linejoin="round" stroke-dasharray="0 1.7"/>
<polyline points="221.00,127.25 222.00,127.41 223.00,127.56 224.00,127.72 225.00,127.87 226.00,128.03 227.00,128.18 228.00,128.33 229.00,128.48 230.00,128.64 231.00,128.79 232.00,128.94 233.00,129.09 234.00,129.24 235.00,129.39 236.00,129.54 237.00,129.69 238.00,129.84 239.00,129.99 240.00,130.13 241.00,130.28 242.00,130.43 243.00,130.58 244.00,130.72 245.00,130.87 246.00,131.01 247.00,131.16 248.00,131.30 249.00,131.45 250.00,131.59 251.00,131.73 252.00,131.88 253.00,132.02 254.00,132.16 255.00,132.30 256.00,132.45 257.00,132.59 258.00,132.73 259.00,132.87 260.00,133.01 261.00,133.15 262.00,133.28 263.00,133.42 264.00,133.56 265.00,133.70 266.00,133.84 267.00,133.97 268.00,134.11 269.00,134.25 270.00,134.38 271.00,134.52 272.00,134.65 273.00,134.79 274.00,134.92 275.00,135.05 276.00,135.19 277.00,135.32 278.00,135.45 279.00,135.58 280.00,135.72 281.00,135.85 282.00,135.98 283.00,136.11 284.00,136.24" fill="none" stroke="#993D71" stroke-width="3.9" stroke-linecap="round" stroke-linejoin="round" stroke-dasharray="0 1.7"/>
<polyline points="233.40,144.33 234.40,144.65 235.40,144.96 236.40,145.28 237.40,145.59 238.40,145.91 239.40,146.22 240.40,146.54 241.40,146.85 242.40,147.17 243.40,147.48 244.40,147.80 245.40,148.11 246.40,148.44 247.40,148.81 248.40,149.17 249.40,149.53 250.40,149.89 251.40,150.25 252.40,150.61 253.40,150.98 254.40,151.34 255.40,151.70 256.40,152.06 257.40,152.42 258.40,152.78 259.40,153.14 260.40,153.51 261.40,153.87 262.40,154.23 263.40,154.59 264.40,154.95 265.40,155.31 266.40,155.68 267.40,156.04 268.40,156.40 269.40,156.76 270.40,157.12 271.40,157.48 272.40,157.84 273.40,158.21 274.40,158.57 275.40,158.93 276.40,159.29 277.40,159.65 278.40,160.01 279.40,160.38 280.40,160.74 281.40,161.10 282.40,161.46 283.40,161.82 284.40,162.18 285.40,162.59 286.40,163.07 287.40,163.55 288.40,164.03 289.40,164.51 290.40,164.99 291.40,165.47 292.40,165.95 293.40,166.43 294.40,166.91 295.40,167.39 296.40,167.87 297.40,168.35 298.40,168.83 299.40,169.31" fill="none" stroke="#3F3D99" stroke-width="2.6" stroke-linecap="round" stroke-linejoin="round" stroke-dasharray="0 1.7"/>
<polyline points="233.40,144.03 234.40,144.35 235.40,144.66 236.40,144.98 237.40,145.29 238.40,145.61 239.40,145.92 240.40,146.24 241.40,146.55 242.40,146.87 243.40,147.18 244.40,147.50 245.40,147.81 246.40,148.14 247.40,148.51 248.40,148.87 249.40,149.23 250.40,149.59 251.40,149.95 252.40,150.31 253.40,150.68 254.40,151.04 255.40,151.40 256.40,151.76 257.40,152.12 258.40,152.48 259.40,152.84 260.40,153.21 261.40,153.57 262.40,153.93 263.40,154.29 264.40,154.65 265.40,155.01 266.40,155.38 267.40,155.74 268.40,156.10 269.40,156.46 270.40,156.82 271.40,157.18 272.40,157.54 273.40,157.91 274.40,158.27 275.40,158.63 276.40,158.99 277.40,159.35 278.40,159.71 279.40,160.08 280.40,160.44 281.40,160.80 282.40,161.16 283.40,161.52 284.40,161.88 285.40,162.29 286.40,162.77 287.40,163.25 288.40,163.73 289.40,164.21 290.40,164.69 291.40,165.17 292.40,165.65 293.40,166.13 294.40,166.61 295.40,167.09 296.40,167.57 297.40,168.05 298.40,168.53 299.40,169.01" fill="none" stroke="#993D71" stroke-width="2.6" stroke-linecap="round" stroke-linejoin="round" stroke-dasharray="0 1.7"/>
<polyline points="233.40,143.23 234.40,143.55 235.40,143.86 236.40,144.18 237.40,144.49 238.40,144.81 239.40,145.12 240.40,145.44 241.40,145.75 242.40,146.07 243.40,146.38 244.40,146.70 245.40,147.01 246.40,147.34" fill="none" stroke="#998B3D" stroke-width="3.2" stroke-linecap="round" stroke-linejoin="round" stroke-dasharray="0 1.7"/>
<polyline points="246.40,147.34 247.40,147.71 248.40,148.07 249.40,148.43 250.40,148.79 251.40,149.15 252.40,149.51 253.40,149.88 254.40,150.24 255.40,150.60 256.40,150.96 257.40,151.32 258.40,151.68 259.40,152.04 260.40,152.41 261.40,152.77 262.40,153.13 263.40,153.49 264.40,153.85 265.40,154.21 266.40,154.58 267.40,154.94 268.40,155.30 269.40,155.66 270.40,156.02 271.40,156.38 272.40,156.74 273.40,157.11 274.40,157.47 275.40,157.83 276.40,158.19 277.40,158.55 278.40,158.91 279.40,159.28 280.40,159.64 281.40,160.00 282.40,160.36 283.40,160.72 284.40,161.08 285.40,161.49 286.40,161.97 287.40,162.45 288.40,162.93 289.40,163.41 290.40,163.89 291.40,164.37 292.40,164.85 293.40,165.33 294.40,165.81 295.40,166.29 296.40,166.77 297.40,167.25 298.40,167.73 299.40,168.21 300.40,168.71 301.40,169.23 302.40,169.76 303.40,170.28 304.40,170.81 305.40,171.34 306.40,171.86 307.40,172.39 308.40,172.92 309.40,173.45 310.40,173.97 311.40,174.50 312.40,175.03 313.40,175.56 314.40,176.08 315.40,176.61 316.40,177.14 317.40,177.67 318.40,178.19 319.40,178.72 320.40,179.25 321.40,179.78 322.40,180.31 323.40,180.85 324.40,181.38 325.40,181.91 326.40,182.44 327.40,182.98 328.40,183.51 329.40,184.04 330.40,184.58 331.40,185.11 332.40,185.65 333.40,186.18 334.40,186.72 335.40,187.25 336.40,187.79 337.40,188.33 338.40,188.87 339.40,189.40 340.40,189.94 341.40,190.48 342.40,191.02 343.40,191.56 344.40,192.10 345.40,192.64 346.40,193.18 347.40,193.71 348.40,194.25 349.40,194.79 350.40,195.33 351.40,195.86 352.40,196.40 353.40,196.94 354.40,197.47 355.40,198.01 356.40,198.55 357.40,199.08 358.40,199.62 359.40,200.15" fill="none" stroke="#3D9956" stroke-width="3.5" stroke-linecap="round" stroke-linejoin="round" stroke-dasharray="0 1.7"/>
<polyline points="359.40,200.15 360.40,200.69 361.40,201.23 362.40,201.76 363.40,202.30 364.40,202.83 365.40,203.38 366.40,203.94 367.40,204.50 368.40,205.06 369.40,205.62 370.40,206.18 371.40,206.74 372.40,207.29 373.40,207.85 374.40,208.41 375.40,208.97 376.40,209.53 377.40,210.09 378.40,210.64 379.40,211.20 380.40,211.76 381.40,212.32 382.40,212.87 383.40,213.43 384.40,213.99 385.40,214.54 386.40,215.10 387.40,215.66 388.40,216.21 389.40,216.77 390.40,217.32 391.40,217.88 392.40,218.43 393.40,218.99 394.40,219.54 395.40,220.10 396.40,220.65 397.40,221.21 398.40,221.76 399.40,222.31 400.40,222.87 401.40,223.42 402.40,223.97 403.40,224.53 404.40,225.08 405.40,225.62 406.40,226.15 407.40,226.68 408.40,227.20 409.40,227.73 410.40,228.26 411.40,228.79 412.40,229.31 413.40,229.84 414.40,230.36 415.40,230.89 416.40,231.42 417.40,231.94 418.40,232.47 419.40,232.99 420.40,233.52 421.40,234.04 422.40,234.57 423.40,235.09 424.40,235.62 425.40,236.14 426.40,236.66 427.40,237.19 428.40,237.71 429.40,238.24 430.40,238.76 431.40,239.28 432.40,239.81 433.40,240.33" fill="none" stroke="#998B3D" stroke-width="3.6" stroke-linecap="round" stroke-linejoin="round" stroke-dasharray="0 1.7"/>
<polyline points="433.40,239.53 434.40,240.05 435.40,240.57 436.40,241.10 437.40,241.62 438.40,242.14 439.40,242.66 440.40,243.19 441.40,243.71 442.40,244.23 443.40,244.75 444.40,245.27 445.40,245.79 446.40,246.32" fill="none" stroke="#993D71" stroke-width="2.0" stroke-linecap="butt" stroke-linejoin="round"/>
<polyline points="434.40,241.75 435.40,242.27 436.40,242.80 437.40,243.32 438.40,243.84 439.40,244.36 440.40,244.89 441.40,245.41 442.40,245.93 443.40,246.45 444.40,246.97 445.40,247.49 446.40,248.02" fill="none" stroke="#3F3D99" stroke-width="2.0" stroke-linecap="butt" stroke-linejoin="round"/>
<polyline points="446.40,247.22 447.40,247.74 448.40,248.26 449.40,248.78 450.40,249.30 451.40,249.82 452.40,250.34 453.40,250.86 454.40,251.38 455.40,251.90 456.40,252.42 457.40,252.94" fill="none" stroke="#3F3D99" stroke-width="2.7" stroke-linecap="butt" stroke-linejoin="round"/>
<polyline points="458.40,253.36 459.40,253.88 460.40,254.40 461.40,254.92" fill="none" stroke="#3F3D99" stroke-width="3.4" stroke-linecap="round" stroke-linejoin="round"/>
<circle cx="123.7" cy="141.8" r="1.5" fill="#3D9956"/>
<circle cx="210.4" cy="141.8" r="1.5" fill="#3D9956"/>
<circle cx="137.5" cy="141.8" r="1.4" fill="#993D71"/>
<circle cx="140.1" cy="141.8" r="1.4" fill="#993D71"/>
<circle cx="142.7" cy="141.8" r="1.4" fill="#993D71"/>
<rect x="142.9" y="117" width="1.3" height="12" fill="#fff"/>
<rect x="198.0" y="154" width="1.3" height="15.8" fill="#fff"/>
<rect x="311.3" y="171.80" width="1.0" height="6" fill="#fff"/>
<circle cx="400.6" cy="225.13" r="1.1" fill="#3F3D99"/>
<circle cx="364.6" cy="201.24" r="1.0" fill="#993D71"/>
<circle cx="365.8" cy="201.94" r="0.9" fill="#3F3D99"/>
<polyline points="59.40,96.77 60.40,96.99 61.40,97.21 62.40,97.43 63.40,97.65 64.40,97.87 65.40,98.09 66.40,98.31 67.40,98.53 68.40,98.75 69.40,98.97 70.40,99.18 71.40,99.40 72.40,99.62 73.40,99.83 74.40,100.05 75.40,100.26 76.40,100.48 77.40,100.69 78.40,100.91 79.40,101.12 80.40,101.33 81.40,101.55 82.40,101.76 83.40,101.97 84.40,102.18 85.40,102.40 86.40,102.61 87.40,102.82 88.40,103.03 89.40,103.24 90.40,103.45 91.40,103.65 92.40,103.86 93.40,104.07 94.40,104.28 95.40,104.49 96.40,104.69 97.40,104.90 98.40,105.11 99.40,105.31 100.40,105.52 101.40,105.72 102.40,105.93 103.40,106.13 104.40,106.33 105.40,106.54 106.40,106.74 107.40,106.94 108.40,107.14 109.40,107.34 110.40,107.55 111.40,107.75 112.40,107.95 113.40,108.15 114.40,108.35 115.40,108.54 116.40,108.74 117.40,108.94 118.40,109.14 119.40,109.34 120.40,109.53 121.40,109.73 122.40,109.93 123.40,110.12 124.40,110.32 125.40,110.51 126.40,110.71 127.40,110.90 128.40,111.09 129.40,111.29 130.40,111.48 131.40,111.67 132.40,111.86 133.40,112.06 134.40,112.25 135.40,112.44 136.40,112.63 137.40,112.82 138.40,113.01 139.40,113.20 140.40,113.39 141.40,113.57 142.40,113.76 143.40,113.95 144.40,114.14 145.40,114.32 146.40,114.51 147.40,114.70 148.40,114.88 149.40,115.07 150.40,115.25 151.40,115.44 152.40,115.62 153.40,115.80 154.40,115.99 155.40,116.17 156.40,116.35 157.40,116.53 158.40,116.71 159.40,116.90 160.40,117.08 161.40,117.26 162.40,117.44 163.40,117.61 164.40,117.79 165.40,117.97 166.40,118.15 167.40,118.33 168.40,118.51 169.40,118.68 170.40,118.86 171.40,119.03 172.40,119.21 173.40,119.39 174.40,119.56 175.40,119.74 176.40,119.91 177.40,120.08 178.40,120.26 179.40,120.43 180.40,120.60 181.40,120.77 182.40,120.94 183.40,121.12 184.40,121.29 185.40,121.46 186.40,121.63 187.40,121.80 188.40,121.97 189.40,122.13 190.40,122.30 191.40,122.47 192.40,122.64 193.40,122.80 194.40,122.97 195.40,123.14 196.40,123.30 197.40,123.47 198.40,123.63 199.40,123.80 200.40,123.96 201.40,124.13 202.40,124.29 203.40,124.45 204.40,124.61 205.40,124.78 206.40,124.94 207.40,125.10 208.40,125.26 209.40,125.42 210.40,125.58 211.40,125.74 212.40,125.90 213.40,126.06 214.40,126.22 215.40,126.38 216.40,126.53 217.40,126.69 218.40,126.85 219.40,127.00 220.40,127.16 221.40,127.32 222.40,127.47 223.40,127.63 224.40,127.78 225.40,127.93 226.40,128.09 227.40,128.24 228.40,128.39 229.40,128.54 230.40,128.70 231.40,128.85 232.40,129.00 233.40,129.15 234.40,129.30 235.40,129.45 236.40,129.60 237.40,129.75 238.40,129.90 239.40,130.05 240.40,130.19 241.40,130.34 242.40,130.49 243.40,130.63 244.40,130.78 245.40,130.93 246.40,131.07 247.40,131.22 248.40,131.36 249.40,131.50 250.40,131.65 251.40,131.79 252.40,131.93 253.40,132.08 254.40,132.22 255.40,132.36 256.40,132.50 257.40,132.64 258.40,132.78 259.40,132.92 260.40,133.06 261.40,133.20 262.40,133.34 263.40,133.48 264.40,133.62 265.40,133.75 266.40,133.89 267.40,134.03 268.40,134.16 269.40,134.30 270.40,134.44 271.40,134.57 272.40,134.71 273.40,134.84 274.40,134.97 275.40,135.11 276.40,135.24 277.40,135.37 278.40,135.50 279.40,135.64 280.40,135.77 281.40,135.90 282.40,136.03 283.40,136.16 284.40,136.29 285.40,136.42 286.40,136.55 287.40,136.68 288.40,136.80 289.40,136.93 290.40,137.06 291.40,137.19 292.40,137.31 293.40,137.44 294.40,137.56 295.40,137.69 296.40,137.81 297.40,137.94 298.40,138.06 299.40,138.19 300.40,138.31 301.40,138.43 302.40,138.55 303.40,138.68 304.40,138.80 305.40,138.92 306.40,139.04 307.40,139.16 308.40,139.28 309.40,139.40 310.40,139.52 311.40,139.64 312.40,139.76 313.40,139.87 314.40,139.99 315.40,140.11 316.40,140.22 317.40,140.34 318.40,140.46 319.40,140.57 320.40,140.69 321.40,140.80 322.40,140.92 323.40,141.03 324.40,141.14 325.40,141.26 326.40,141.37 327.40,141.48 328.40,141.59 329.40,141.70 330.40,141.81 331.40,141.92 332.40,142.03 333.40,142.14 334.40,142.25 335.40,142.36 336.40,142.47 337.40,142.58 338.40,142.69 339.40,142.79 340.40,142.90 341.40,143.01 342.40,143.11 343.40,143.22 344.40,143.32 345.40,143.43 346.40,143.53 347.40,143.64 348.40,143.74 349.40,143.84 350.40,143.95 351.40,144.05 352.40,144.15 353.40,144.25 354.40,144.35 355.40,144.45 356.40,144.55 357.40,144.65 358.40,144.75 359.40,144.85 360.40,144.95 361.40,145.05 362.40,145.15 363.40,145.24 364.40,145.34 365.40,145.44 366.40,145.53 367.40,145.63 368.40,145.72 369.40,145.82 370.40,145.91 371.40,146.01 372.40,146.10 373.40,146.19 374.40,146.29 375.40,146.38 376.40,146.47 377.40,146.56 378.40,146.65 379.40,146.75 380.40,146.84 381.40,146.93 382.40,147.02 383.40,147.11 384.40,147.20 385.40,147.29 386.40,147.38 387.40,147.47 388.40,147.56 389.40,147.65 390.40,147.74 391.40,147.83 392.40,147.92 393.40,148.01 394.40,148.10 395.40,148.19 396.40,148.28 397.40,148.37 398.40,148.46 399.40,148.55 400.40,148.64 401.40,148.73 402.40,148.82 403.40,148.90 404.40,148.99 405.40,149.08 406.40,149.17 407.40,149.26 408.40,149.35 409.40,149.44 410.40,149.53 411.40,149.62 412.40,149.71 413.40,149.80 414.40,149.88 415.40,149.97 416.40,150.06 417.40,150.15 418.40,150.24 419.40,150.33 420.40,150.42 421.40,150.51 422.40,150.59 423.40,150.68 424.40,150.77 425.40,150.86 426.40,150.95 427.40,151.03 428.40,151.12 429.40,151.21 430.40,151.30 431.40,151.39 432.40,151.47 433.40,151.56 434.40,151.65 435.40,151.74 436.40,151.83 437.40,151.91 438.40,152.00 439.40,152.09 440.40,152.18 441.40,152.26 442.40,152.35 443.40,152.44 444.40,152.53 445.40,152.61 446.40,152.70 447.40,152.79 448.40,152.87 449.40,152.96 450.40,153.05 451.40,153.14 452.40,153.22 453.40,153.31 454.40,153.40" fill="none" stroke="#993D71" stroke-width="1.3" />
<polyline points="59.20,24.03 60.20,24.68 61.20,25.33 62.20,25.99 63.20,26.64 64.20,27.28 65.20,27.93 66.20,28.58 67.20,29.23 68.20,29.88 69.20,30.53 70.20,31.17 71.20,31.82 72.20,32.46 73.20,33.11 74.20,33.75 75.20,34.40 76.20,35.04 77.20,35.68 78.20,36.32 79.20,36.97 80.20,37.61 81.20,38.25 82.20,38.89 83.20,39.53 84.20,40.17 85.20,40.81 86.20,41.44 87.20,42.08 88.20,42.72 89.20,43.36 90.20,43.99 91.20,44.63 92.20,45.26 93.20,45.90 94.20,46.53 95.20,47.16 96.20,47.80 97.20,48.43 98.20,49.06 99.20,49.69 100.20,50.32 101.20,50.95 102.20,51.58 103.20,52.21 104.20,52.84 105.20,53.47 106.20,54.10 107.20,54.73 108.20,55.35 109.20,55.98 110.20,56.61 111.20,57.23 112.20,57.86 113.20,58.48 114.20,59.11 115.20,59.73 116.20,60.35 117.20,60.98 118.20,61.60 119.20,62.22 120.20,62.84 121.20,63.46 122.20,64.08 123.20,64.70 124.20,65.32 125.20,65.94 126.20,66.56 127.20,67.18 128.20,67.80 129.20,68.41 130.20,69.03 131.20,69.65 132.20,70.26 133.20,70.88 134.20,71.49 135.20,72.11 136.20,72.72 137.20,73.33 138.20,73.95 139.20,74.56 140.20,75.17 141.20,75.78 142.20,76.39 143.20,77.00 144.20,77.61 145.20,78.22 146.20,78.83 147.20,79.44 148.20,80.05 149.20,80.66 150.20,81.26 151.20,81.87 152.20,82.48 153.20,83.08 154.20,83.69 155.20,84.29 156.20,84.90 157.20,85.50 158.20,86.11 159.20,86.71 160.20,87.31 161.20,87.92 162.20,88.52 163.20,89.12 164.20,89.72 165.20,90.32 166.20,90.92 167.20,91.52 168.20,92.12 169.20,92.72 170.20,93.32 171.20,93.92 172.20,94.52 173.20,95.12 174.20,95.71 175.20,96.31 176.20,96.91 177.20,97.50 178.20,98.10 179.20,98.69 180.20,99.29 181.20,99.88 182.20,100.47 183.20,101.07 184.20,101.66 185.20,102.25 186.20,102.85 187.20,103.44 188.20,104.03 189.20,104.62 190.20,105.21 191.20,105.80 192.20,106.39 193.20,106.98 194.20,107.57 195.20,108.16 196.20,108.75 197.20,109.33 198.20,109.92 199.20,110.51 200.20,111.10 201.20,111.68 202.20,112.27 203.20,112.86 204.20,113.44 205.20,114.03 206.20,114.61 207.20,115.20 208.20,115.79 209.20,116.37 210.20,116.96 211.20,117.54 212.20,118.12 213.20,118.71 214.20,119.29 215.20,119.88 216.20,120.46 217.20,121.05 218.20,121.63 219.20,122.21 220.20,122.80 221.20,123.38 222.20,123.97 223.20,124.55 224.20,125.14 225.20,125.72 226.20,126.31 227.20,126.89 228.20,127.48 229.20,128.07 230.20,128.65 231.20,129.24 232.20,129.83 233.20,130.41 234.20,131.00 235.20,131.59 236.20,132.18 237.20,132.77 238.20,133.36 239.20,133.95 240.20,134.54 241.20,135.13 242.20,135.72 243.20,136.32 244.20,136.91 245.20,137.50 246.20,138.09 247.20,138.69 248.20,139.28 249.20,139.87 250.20,140.47 251.20,141.06 252.20,141.66 253.20,142.25 254.20,142.84 255.20,143.44 256.20,144.03 257.20,144.62 258.20,145.21 259.20,145.81 260.20,146.40 261.20,146.99 262.20,147.58 263.20,148.16 264.20,148.75 265.20,149.34 266.20,149.92 267.20,150.50 268.20,151.09 269.20,151.67 270.20,152.24 271.20,152.82 272.20,153.40 273.20,153.97 274.20,154.54 275.20,155.11 276.20,155.68 277.20,156.24 278.20,156.80 279.20,157.37 280.20,157.92 281.20,158.48 282.20,159.04 283.20,159.59 284.20,160.14 285.20,160.69 286.20,161.23 287.20,161.78 288.20,162.32 289.20,162.86 290.20,163.40 291.20,163.94 292.20,164.48 293.20,165.01 294.20,165.54 295.20,166.07 296.20,166.60 297.20,167.13 298.20,167.66 299.20,168.19 300.20,168.72 301.20,169.24 302.20,169.77 303.20,170.29 304.20,170.82 305.20,171.34 306.20,171.86 307.20,172.39 308.20,172.91 309.20,173.43 310.20,173.96 311.20,174.48 312.20,175.01 313.20,175.53 314.20,176.05 315.20,176.58 316.20,177.10 317.20,177.63 318.20,178.16 319.20,178.68 320.20,179.21 321.20,179.74 322.20,180.27 323.20,180.79 324.20,181.32 325.20,181.85 326.20,182.38 327.20,182.91 328.20,183.44 329.20,183.98 330.20,184.51 331.20,185.04 332.20,185.57 333.20,186.11 334.20,186.64 335.20,187.18 336.20,187.71 337.20,188.25 338.20,188.78 339.20,189.32 340.20,189.85 341.20,190.39 342.20,190.92 343.20,191.46 344.20,192.00 345.20,192.53 346.20,193.07 347.20,193.61 348.20,194.14 349.20,194.68 350.20,195.22 351.20,195.75 352.20,196.29 353.20,196.83 354.20,197.36 355.20,197.90 356.20,198.44 357.20,198.97 358.20,199.51 359.20,200.05 360.20,200.58 361.20,201.12 362.20,201.65 363.20,202.19 364.20,202.73 365.20,203.27 366.20,203.83 367.20,204.39 368.20,204.95 369.20,205.51 370.20,206.06 371.20,206.62 372.20,207.18 373.20,207.74 374.20,208.30 375.20,208.86 376.20,209.42 377.20,209.98 378.20,210.53 379.20,211.09 380.20,211.65 381.20,212.21 382.20,212.76 383.20,213.32 384.20,213.88 385.20,214.43 386.20,214.99 387.20,215.55 388.20,216.10 389.20,216.66 390.20,217.21 391.20,217.77 392.20,218.32 393.20,218.88 394.20,219.43 395.20,219.99 396.20,220.54 397.20,221.10 398.20,221.65 399.20,222.20 400.20,222.76 401.20,223.31 402.20,223.86 403.20,224.42 404.20,224.97 405.20,225.52 406.20,226.04 407.20,226.57 408.20,227.10 409.20,227.63 410.20,228.15 411.20,228.68 412.20,229.21 413.20,229.73 414.20,230.26 415.20,230.78 416.20,231.31 417.20,231.84 418.20,232.36 419.20,232.89 420.20,233.41 421.20,233.94 422.20,234.46 423.20,234.99 424.20,235.51 425.20,236.04 426.20,236.56 427.20,237.08 428.20,237.61 429.20,238.13 430.20,238.65 431.20,239.18 432.20,239.70 433.20,240.22 434.20,240.75 435.20,241.27 436.20,241.79 437.20,242.32 438.20,242.84 439.20,243.36 440.20,243.88 441.20,244.40 442.20,244.93 443.20,245.45 444.20,245.97 445.20,246.49 446.20,247.01 447.20,247.53 448.20,248.05 449.20,248.57 450.20,249.09 451.20,249.62 452.20,250.14 453.20,250.66 454.20,251.18 455.20,251.70" fill="none" stroke="#998B3D" stroke-width="1.2" />
<line x1="253.20" y1="62.40" x2="226.71" y2="124.89" stroke="#111" stroke-width="1.5"/><polygon points="222.30,135.30 223.87,121.85 226.71,124.89 230.87,124.81" fill="#111"/>
<line x1="302.90" y1="68.10" x2="266.28" y2="121.66" stroke="#111" stroke-width="1.5"/><polygon points="259.90,131.00 264.10,118.12 266.28,121.66 270.37,122.41" fill="#111"/>
<line x1="335.10" y1="75.30" x2="267.70" y2="137.72" stroke="#111" stroke-width="1.5"/><polygon points="259.40,145.40 266.36,133.78 267.70,137.72 271.52,139.36" fill="#111"/>
</g>
<defs><filter id="f" x="0" y="0" width="467" height="331" filterUnits="userSpaceOnUse"><feGaussianBlur stdDeviation="0.28"/></filter></defs><g filter="url(#f)">
<text x="51.6" y="39.940000000000005" font-size="16.8" text-anchor="end" style="" >6</text>
<text x="51.6" y="76.05999999999999" font-size="16.8" text-anchor="end" style="" >4</text>
<text x="51.6" y="112.17999999999998" font-size="16.8" text-anchor="end" style="" >2</text>
<text x="51.6" y="148.29999999999998" font-size="16.8" text-anchor="end" style="" >0</text>
<text x="51.6" y="184.42" font-size="16.8" text-anchor="end" style="" >2</text>
<rect x="30.1" y="179.12" width="8.4" height="1.2" fill="#111"/>
<text x="51.6" y="220.54" font-size="16.8" text-anchor="end" style="" >4</text>
<rect x="30.1" y="215.24" width="8.4" height="1.2" fill="#111"/>
<text x="51.6" y="256.65999999999997" font-size="16.8" text-anchor="end" style="" >6</text>
<rect x="30.1" y="251.36" width="8.4" height="1.2" fill="#111"/>
<text x="59.60" y="297.8" font-size="16.8" text-anchor="middle" style="" >0</text>
<text x="144.25" y="297.8" font-size="16.8" text-anchor="middle" style="" >0.45</text>
<text x="228.89" y="297.8" font-size="16.8" text-anchor="middle" style="" >0.9</text>
<text x="313.54" y="297.8" font-size="16.8" text-anchor="middle" style="" >1.35</text>
<text x="398.18" y="297.8" font-size="16.8" text-anchor="middle" style="" >1.8</text>
<text x="260.6" y="325" font-size="18.5" text-anchor="middle" style="font-style:italic;" >φ</text>
<g transform="translate(16.6,165) rotate(-90)"><text x="0" y="0" font-size="15" text-anchor="start" style="font-style:italic;" >c</text><text x="8.2" y="3.6" font-size="10.5" text-anchor="start" style="" >0</text><text x="17.6" y="3.6" font-size="10.5" text-anchor="start" style="" >,</text><text x="22.6" y="3.6" font-size="11.5" text-anchor="start" style="font-style:italic;" >j</text></g>
<text x="139.8" y="16" font-size="15.5" text-anchor="start" style="font-style:italic;" >c</text>
<text x="147.6" y="19.2" font-size="11.3" text-anchor="start" style="" >0</text>
<text x="154.8" y="19.2" font-size="11.3" text-anchor="start" style="" >,</text>
<text x="158.8" y="19.2" font-size="12.5" text-anchor="start" style="font-style:italic;" >j</text>
<text x="168.4" y="16" font-size="16.8" text-anchor="start" style="" >(</text>
<text x="173.6" y="16" font-size="18.5" text-anchor="start" style="font-style:italic;" >φ</text>
<text x="186.6" y="16" font-size="16.8" text-anchor="start" style="" >)</text>
<text x="201.0" y="16" font-size="16.8" text-anchor="start" style="" >,</text>
<text x="218.2" y="16" font-size="17" text-anchor="start" style="font-style:italic;" >γ</text>
<text x="228.6" y="16" font-size="16.8" text-anchor="start" style="" >=</text>
<text x="241.3" y="16" font-size="16.8" text-anchor="start" style="" >0.45</text>
<text x="280.3" y="16" font-size="16.8" text-anchor="start" style="" >,</text>
<text x="296.3" y="16" font-size="16.8" text-anchor="start" style="" >L</text>
<text x="306.6" y="16" font-size="16.8" text-anchor="start" style="" >=</text>
<text x="319.3" y="16" font-size="16.8" text-anchor="start" style="" >32</text>
<text x="337.8" y="16" font-size="16.8" text-anchor="start" style="" >,</text>
<text x="349.3" y="16" font-size="16.8" text-anchor="start" style="" >...</text>
<text x="365.8" y="16" font-size="16.8" text-anchor="start" style="" >92</text>
<text x="96.6" y="94.1" font-size="22" text-anchor="start" style="font-style:italic;" >c</text><text x="107.7" y="97.5" font-size="15.6" text-anchor="start" style="" >0</text><text x="118.5" y="97.5" font-size="15.6" text-anchor="start" style="" >,</text><text x="124.0" y="97.5" font-size="15.6" text-anchor="start" style="" >0</text>
<text x="101.8" y="132.5" font-size="22" text-anchor="start" style="font-style:italic;" >c</text><text x="112.8" y="136.8" font-size="15.6" text-anchor="start" style="" >0</text><text x="123.5" y="136.8" font-size="15.6" text-anchor="start" style="" >,</text><text x="128.0" y="136.8" font-size="15.6" text-anchor="start" style="" >1</text>
<text x="216.1" y="177.9" font-size="22" text-anchor="start" style="font-style:italic;" >c</text><text x="227.1" y="182.2" font-size="15.6" text-anchor="start" style="" >0</text><text x="238.0" y="182.2" font-size="15.6" text-anchor="start" style="" >,</text><text x="243.2" y="182.2" font-size="15.6" text-anchor="start" style="" >2</text>
<text x="302.5" y="64.4" font-size="22" text-anchor="start" style="font-style:italic;" >c</text><text x="312.2" y="67.5" font-size="15.6" text-anchor="start" style="" >1</text>
<text x="340.0" y="68.9" font-size="22" text-anchor="start" style="font-style:italic;" >c</text><text x="349.8" y="73.0" font-size="15.6" text-anchor="start" style="" >3</text>
<text x="253.0" y="55.1" font-size="22" text-anchor="start" style="font-style:italic;" >c</text><text x="264.5" y="48.8" font-size="12.5" text-anchor="start" style="" >*</text>
</g>
</svg></body></html>
